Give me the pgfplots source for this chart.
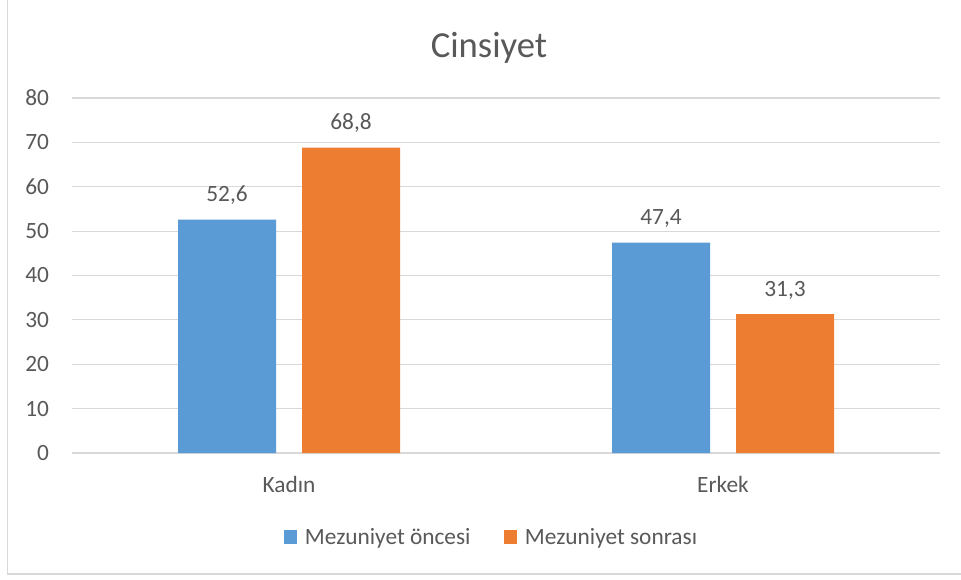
\documentclass[border=0pt]{standalone}
\usepackage{pgfplots}
\pgfplotsset{compat=1.18}
\usepackage{fontspec}
\setmainfont{Carlito}
\definecolor{cblue}{HTML}{5B9BD5}
\definecolor{corange}{HTML}{ED7D31}
\definecolor{ctext}{HTML}{595959}
\definecolor{cgrid}{HTML}{D9D9D9}
\begin{document}
\begin{tikzpicture}[x=1pt,y=1pt]
\useasboundingbox (0,0) rectangle (720.75pt,434.25pt);
\fill[white] (0,0) rectangle (720.75pt,434.25pt);
\draw[cgrid, line width=1.2pt] (5.6pt,440pt) -- (5.6pt,3.75pt) -- (730pt,3.75pt);
\begin{axis}[
  at={(54pt,94.5pt)}, anchor=south west,
  scale only axis, width=651pt, height=266.25pt,
  ybar, bar width=73.5pt,
  xmin=-0.5, xmax=1.5, ymin=0, ymax=80,
  xtick={0,1}, xticklabels={Kad\i n,Erkek},
  ytick={0,10,...,80},
  axis line style={draw=none},
  major tick length=0pt,
  ymajorgrids, grid style={cgrid, line width=0.9pt},
  /pgf/number format/assume math mode=true,
  font=\fontsize{17.5}{21}\selectfont,
  tick label style={text=ctext, font=\fontsize{17.5}{21}\selectfont},
  yticklabel style={anchor=east, inner sep=0pt, xshift=-17pt},
  xticklabel style={anchor=north, inner sep=0pt, yshift=-17pt},
  nodes near coords,
  nodes near coords style={text=ctext, font=\fontsize{17.5}{21}\selectfont, anchor=south, inner sep=0pt, yshift=11pt, /pgf/number format/.cd, fixed, precision=1, use comma, assume math mode=true},
  legend columns=2,
  legend style={draw=none, fill=none, at={(0.4839,-0.2366)}, anchor=center, text=ctext, font=\fontsize{17.5}{21}\selectfont,
    /tikz/every odd column/.append style={column sep=3.75pt},
    /tikz/every even column/.append style={column sep=23.25pt}},
  legend image code/.code={\fill[#1] (0pt,-4.9pt) rectangle (9.75pt,4.9pt);},
]
\addplot[fill=cblue, draw=none, bar shift=-46.5pt] coordinates {(0,52.6) (1,47.4)};
\addplot[fill=corange, draw=none, bar shift=46.5pt] coordinates {(0,68.8) (1,31.3)};
\legend{Mezuniyet öncesi, Mezuniyet sonrası}
\end{axis}
\node[anchor=base, text=ctext, font=\fontsize{27.5}{32}\selectfont, inner sep=0pt] at (366.75pt,390.75pt) {Cinsiyet};
\end{tikzpicture}
\end{document}
